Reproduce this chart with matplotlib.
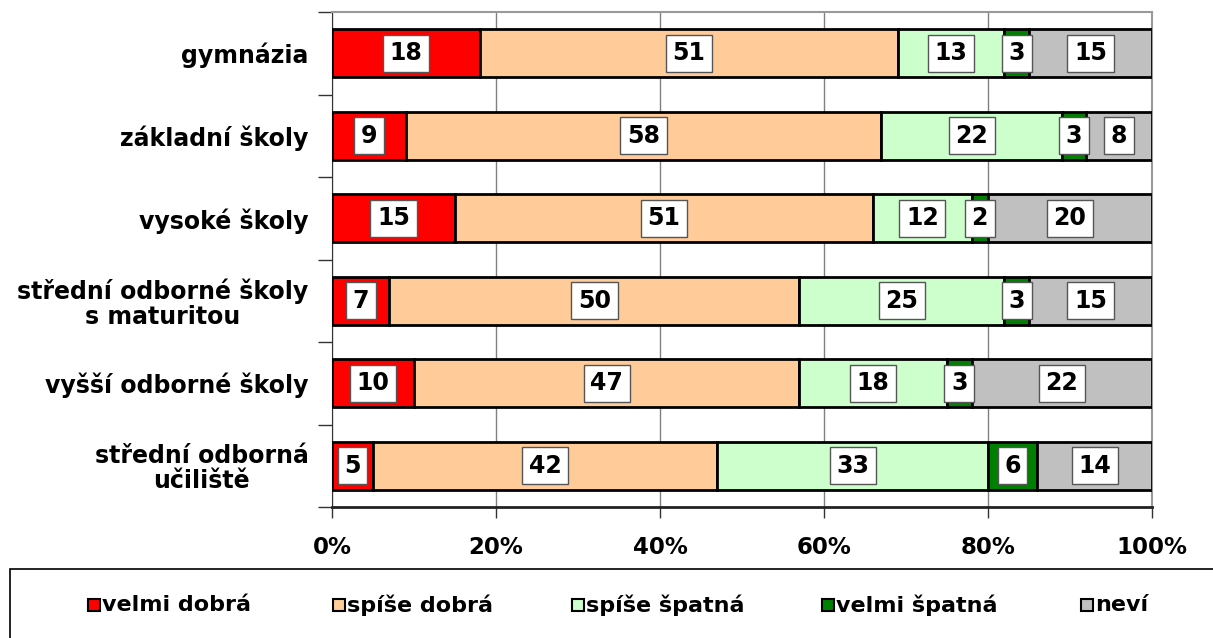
import numpy as np
import matplotlib.pyplot as plt
from matplotlib.patches import Rectangle

plt.rcParams["font.family"] = ["DejaVu Sans"]
plt.rcParams["font.weight"] = "bold"

categories = ["gymnázia", "základní školy", "vysoké školy",
              "střední odborné školy\ns maturitou", "vyšší odborné školy",
              "střední odborná\nučiliště"]
series = ["velmi dobrá", "spíše dobrá", "spíše špatná", "velmi špatná", "neví"]
velmi_dobra = [18, 9, 15, 7, 10, 5]
spise_dobra = [51, 58, 51, 50, 47, 42]
spise_spatna = [13, 22, 12, 25, 18, 33]
velmi_spatna = [3, 3, 2, 3, 3, 6]
nevi = [15, 8, 20, 15, 22, 14]
values = [velmi_dobra, spise_dobra, spise_spatna, velmi_spatna, nevi]
colors = ["#FF0000", "#FFCC99", "#CCFFCC", "#008000", "#C0C0C0"]

W, H = 1213, 638
fig = plt.figure(figsize=(W / 100, H / 100), dpi=100)
ax = fig.add_axes([332 / W, 1 - 507 / H, 820 / W, 495 / H])

y = np.arange(len(categories))
left = np.zeros(len(categories))
for name, vals, col in zip(series, values, colors):
    vals = np.array(vals, dtype=float)
    ax.barh(y, vals, left=left, height=0.58, color=col, edgecolor="black",
            linewidth=2, label=name, zorder=3)
    for yi, l, v in zip(y, left, vals):
        ax.text(l + v / 2, yi, f"{int(v)}", ha="center", va="center",
                fontsize=17, fontweight="bold", zorder=5,
                bbox=dict(boxstyle="square,pad=0.28", fc="white", ec="#555555", lw=1))
    left += vals

ax.set_xlim(0, 100)
ax.set_ylim(len(categories) - 0.5, -0.5)
ax.set_xticks([0, 20, 40, 60, 80, 100])
ax.set_xticklabels(["0%", "20%", "40%", "60%", "80%", "100%"],
                   fontsize=16.5, fontweight="bold")
ax.tick_params(axis="x", length=8, width=1, color="#333333", pad=13)
ax.grid(axis="x", color="#808080", linewidth=1, zorder=0)

ax.set_yticks(y)
ax.set_yticklabels(categories, fontsize=17, fontweight="bold",
                   multialignment="center", linespacing=1.05)
ax.tick_params(axis="y", which="major", length=0, pad=17)
ax.set_yticks(np.arange(-0.5, len(categories) + 0.5, 1), minor=True)
ax.tick_params(axis="y", which="minor", length=10, width=1, color="#333333")

for s in ["top", "right"]:
    ax.spines[s].set_color("#999999")
    ax.spines[s].set_linewidth(1.5)
ax.spines["left"].set_color("#333333")
ax.spines["bottom"].set_color("#222222")
ax.spines["bottom"].set_linewidth(2)

# legend frame
fig.patches.append(Rectangle((10 / W, -0.1), 1.1, (H - 569) / H + 0.1,
                             transform=fig.transFigure, fc="white",
                             ec="black", lw=1.2))
# legend entries
legend_x = [88, 333, 572, 822, 1081]
legend_y = 605
for lx, name, col in zip(legend_x, series, colors):
    fig.patches.append(Rectangle((lx / W, 1 - (legend_y + 6) / H), 12 / W, 12 / H,
                                 transform=fig.transFigure, fc=col,
                                 ec="black", lw=1.5))
    fig.text((lx + 14) / W, 1 - legend_y / H, name, ha="left", va="center",
             fontsize=16, fontweight="bold")

fig.savefig("out.png", dpi=100, facecolor="white")
